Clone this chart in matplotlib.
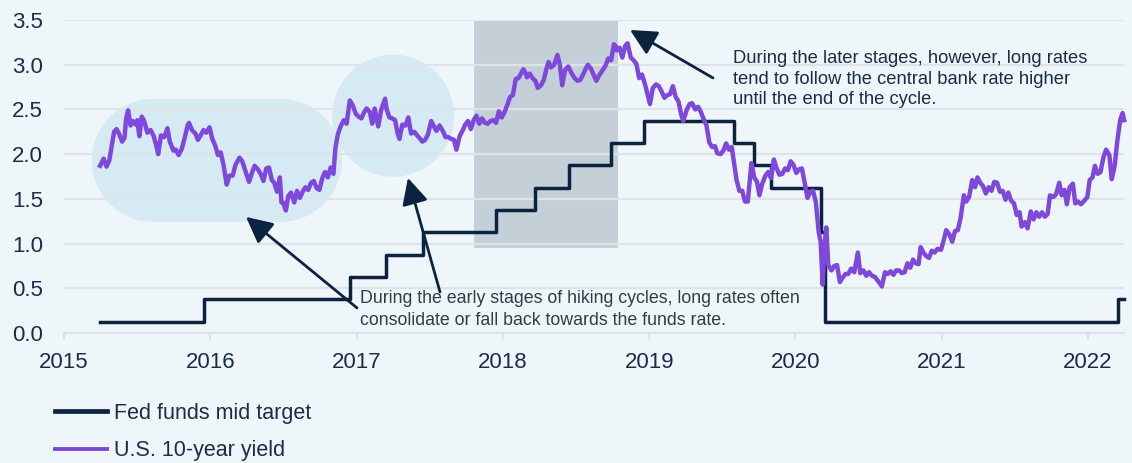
import matplotlib
matplotlib.use("Agg")
import matplotlib.pyplot as plt
from matplotlib.patches import Ellipse, Rectangle
from matplotlib.lines import Line2D
import pandas as pd

# ---------------- data ----------------
fed_dates = ["2015-04-01", "2015-12-17", "2016-12-15", "2017-03-16", "2017-06-15",
             "2017-12-14", "2018-03-22", "2018-06-14", "2018-09-27", "2018-12-20",
             "2019-08-01", "2019-09-19", "2019-10-31", "2020-03-04", "2020-03-16",
             "2022-03-17", "2022-04-01"]
fed_values = [0.125, 0.375, 0.625, 0.875, 1.125, 1.375, 1.625, 1.875, 2.125, 2.375,
              2.125, 1.875, 1.625, 1.125, 0.125, 0.375, 0.375]

yield_dates = [
    "2015-04-01", "2015-04-10", "2015-04-17", "2015-04-24", "2015-05-01", "2015-05-06", "2015-05-12",
    "2015-05-18", "2015-05-26", "2015-06-01", "2015-06-05", "2015-06-10", "2015-06-16", "2015-06-22",
    "2015-06-29", "2015-07-03", "2015-07-08", "2015-07-14", "2015-07-20", "2015-07-28", "2015-08-05",
    "2015-08-13", "2015-08-20", "2015-08-24", "2015-08-31", "2015-09-08", "2015-09-16", "2015-09-22",
    "2015-10-01", "2015-10-07", "2015-10-14", "2015-10-22", "2015-10-29", "2015-11-06", "2015-11-09",
    "2015-11-16", "2015-11-25", "2015-12-01", "2015-12-08", "2015-12-15", "2015-12-22", "2015-12-30",
    "2016-01-06", "2016-01-13", "2016-01-20", "2016-01-27", "2016-02-03", "2016-02-11", "2016-02-18",
    "2016-02-26", "2016-03-04", "2016-03-14", "2016-03-21", "2016-03-31", "2016-04-07", "2016-04-14",
    "2016-04-21", "2016-04-29", "2016-05-06", "2016-05-13", "2016-05-20", "2016-05-27", "2016-06-03",
    "2016-06-09", "2016-06-16", "2016-06-23", "2016-06-27", "2016-07-01", "2016-07-08", "2016-07-14",
    "2016-07-21", "2016-07-29", "2016-08-05", "2016-08-12", "2016-08-19", "2016-08-26", "2016-09-02",
    "2016-09-09", "2016-09-16", "2016-09-23", "2016-09-30", "2016-10-07", "2016-10-14", "2016-10-21",
    "2016-10-28", "2016-11-04", "2016-11-09", "2016-11-15", "2016-11-22", "2016-11-30", "2016-12-07",
    "2016-12-15", "2016-12-22", "2016-12-30", "2017-01-06", "2017-01-13", "2017-01-20", "2017-01-26",
    "2017-02-03", "2017-02-09", "2017-02-15", "2017-02-24", "2017-03-03", "2017-03-13", "2017-03-17",
    "2017-03-24", "2017-03-31", "2017-04-07", "2017-04-13", "2017-04-18", "2017-04-25", "2017-05-03",
    "2017-05-10", "2017-05-17", "2017-05-25", "2017-06-01", "2017-06-07", "2017-06-14", "2017-06-21",
    "2017-06-28", "2017-07-06", "2017-07-12", "2017-07-19", "2017-07-27", "2017-08-04", "2017-08-11",
    "2017-08-18", "2017-08-25", "2017-09-01", "2017-09-07", "2017-09-15", "2017-09-22", "2017-09-29",
    "2017-10-06", "2017-10-13", "2017-10-20", "2017-10-27", "2017-11-03", "2017-11-10", "2017-11-17",
    "2017-11-24", "2017-12-01", "2017-12-08", "2017-12-15", "2017-12-22", "2017-12-29", "2018-01-05",
    "2018-01-12", "2018-01-19", "2018-01-26", "2018-02-02", "2018-02-09", "2018-02-15", "2018-02-21",
    "2018-02-27", "2018-03-02", "2018-03-09", "2018-03-16", "2018-03-23", "2018-03-29", "2018-04-06",
    "2018-04-13", "2018-04-20", "2018-04-25", "2018-05-01", "2018-05-09", "2018-05-17", "2018-05-23",
    "2018-05-29", "2018-06-05", "2018-06-13", "2018-06-22", "2018-06-29", "2018-07-06", "2018-07-13",
    "2018-07-20", "2018-07-27", "2018-08-01", "2018-08-08", "2018-08-15", "2018-08-22", "2018-08-29",
    "2018-09-07", "2018-09-14", "2018-09-21", "2018-09-28", "2018-10-05", "2018-10-09", "2018-10-12",
    "2018-10-19", "2018-10-26", "2018-11-02", "2018-11-08", "2018-11-16", "2018-11-23", "2018-11-30",
    "2018-12-07", "2018-12-14", "2018-12-21", "2019-01-03", "2019-01-10", "2019-01-18", "2019-01-25",
    "2019-02-01", "2019-02-08", "2019-02-15", "2019-02-22", "2019-03-01", "2019-03-08", "2019-03-15",
    "2019-03-22", "2019-03-27", "2019-04-05", "2019-04-12", "2019-04-18", "2019-04-26", "2019-05-03",
    "2019-05-10", "2019-05-17", "2019-05-24", "2019-05-31", "2019-06-07", "2019-06-14", "2019-06-20",
    "2019-06-28", "2019-07-05", "2019-07-12", "2019-07-19", "2019-07-26", "2019-08-01", "2019-08-07",
    "2019-08-14", "2019-08-21", "2019-08-28", "2019-09-04", "2019-09-13", "2019-09-20", "2019-09-27",
    "2019-10-03", "2019-10-10", "2019-10-18", "2019-10-25", "2019-11-01", "2019-11-08", "2019-11-15",
    "2019-11-22", "2019-11-29", "2019-12-06", "2019-12-13", "2019-12-20", "2019-12-27", "2020-01-03",
    "2020-01-10", "2020-01-17", "2020-01-24", "2020-01-31", "2020-02-07", "2020-02-14", "2020-02-21",
    "2020-02-28", "2020-03-04", "2020-03-09", "2020-03-13", "2020-03-18", "2020-03-23", "2020-03-31",
    "2020-04-07", "2020-04-14", "2020-04-21", "2020-04-28", "2020-05-05", "2020-05-12", "2020-05-19",
    "2020-05-27", "2020-06-05", "2020-06-11", "2020-06-19", "2020-06-26", "2020-07-03", "2020-07-10",
    "2020-07-17", "2020-07-24", "2020-07-31", "2020-08-04", "2020-08-12", "2020-08-19", "2020-08-26",
    "2020-09-02", "2020-09-09", "2020-09-16", "2020-09-23", "2020-09-30", "2020-10-07", "2020-10-14",
    "2020-10-21", "2020-10-28", "2020-11-04", "2020-11-09", "2020-11-16", "2020-11-23", "2020-11-30",
    "2020-12-07", "2020-12-14", "2020-12-21", "2020-12-30", "2021-01-06", "2021-01-12", "2021-01-20",
    "2021-01-27", "2021-02-03", "2021-02-10", "2021-02-17", "2021-02-25", "2021-03-03", "2021-03-10",
    "2021-03-18", "2021-03-25", "2021-03-31", "2021-04-07", "2021-04-14", "2021-04-21", "2021-04-28",
    "2021-05-05", "2021-05-12", "2021-05-19", "2021-05-26", "2021-06-02", "2021-06-09", "2021-06-16",
    "2021-06-23", "2021-06-30", "2021-07-07", "2021-07-14", "2021-07-19", "2021-07-27", "2021-08-03",
    "2021-08-11", "2021-08-18", "2021-08-25", "2021-09-01", "2021-09-08", "2021-09-15", "2021-09-22",
    "2021-09-28", "2021-10-06", "2021-10-13", "2021-10-21", "2021-10-27", "2021-11-03", "2021-11-09",
    "2021-11-16", "2021-11-24", "2021-11-30", "2021-12-07", "2021-12-14", "2021-12-21", "2021-12-30",
    "2022-01-05", "2022-01-12", "2022-01-18", "2022-01-25", "2022-02-01", "2022-02-08", "2022-02-15",
    "2022-02-23", "2022-03-01", "2022-03-08", "2022-03-15", "2022-03-22", "2022-03-28", "2022-04-01"]
yield_values = [
    1.87, 1.95, 1.86, 1.93, 2.12, 2.25, 2.28, 2.23, 2.14, 2.18, 2.40, 2.49, 2.32, 2.37,
    2.33, 2.38, 2.20, 2.42, 2.37, 2.24, 2.27, 2.20, 2.08, 2.00, 2.21, 2.19, 2.29, 2.14,
    2.04, 2.05, 1.99, 2.06, 2.18, 2.33, 2.35, 2.27, 2.23, 2.16, 2.21, 2.27, 2.24, 2.30,
    2.17, 2.10, 1.99, 2.02, 1.88, 1.66, 1.76, 1.76, 1.88, 1.96, 1.92, 1.78, 1.69, 1.79,
    1.87, 1.83, 1.78, 1.70, 1.84, 1.85, 1.71, 1.68, 1.58, 1.74, 1.46, 1.46, 1.37, 1.53,
    1.57, 1.46, 1.59, 1.51, 1.58, 1.63, 1.60, 1.68, 1.70, 1.62, 1.60, 1.73, 1.80, 1.74,
    1.85, 1.78, 2.07, 2.22, 2.31, 2.38, 2.34, 2.60, 2.55, 2.45, 2.42, 2.40, 2.47, 2.51,
    2.47, 2.34, 2.51, 2.31, 2.49, 2.62, 2.50, 2.41, 2.40, 2.38, 2.24, 2.17, 2.33, 2.32,
    2.41, 2.23, 2.25, 2.21, 2.18, 2.14, 2.16, 2.22, 2.37, 2.32, 2.26, 2.32, 2.26, 2.19,
    2.19, 2.17, 2.16, 2.05, 2.20, 2.26, 2.33, 2.37, 2.28, 2.38, 2.43, 2.34, 2.40, 2.35,
    2.34, 2.37, 2.38, 2.35, 2.48, 2.41, 2.47, 2.55, 2.64, 2.66, 2.84, 2.85, 2.90, 2.95,
    2.90, 2.86, 2.90, 2.85, 2.82, 2.74, 2.77, 2.83, 2.96, 3.03, 2.97, 3.00, 3.11, 3.00,
    2.77, 2.94, 2.98, 2.90, 2.85, 2.82, 2.83, 2.89, 2.96, 3.00, 2.96, 2.89, 2.82, 2.88,
    2.94, 2.99, 3.07, 3.05, 3.23, 3.21, 3.16, 3.19, 3.08, 3.21, 3.24, 3.08, 3.05, 3.01,
    2.85, 2.89, 2.79, 2.56, 2.74, 2.78, 2.76, 2.70, 2.63, 2.66, 2.67, 2.76, 2.64, 2.59,
    2.44, 2.37, 2.50, 2.56, 2.57, 2.50, 2.53, 2.47, 2.39, 2.32, 2.13, 2.08, 2.09, 2.01,
    2.00, 2.04, 2.12, 2.05, 2.08, 1.89, 1.71, 1.59, 1.59, 1.47, 1.47, 1.90, 1.74, 1.69,
    1.54, 1.67, 1.76, 1.80, 1.73, 1.94, 1.84, 1.77, 1.78, 1.84, 1.82, 1.92, 1.88, 1.79,
    1.83, 1.84, 1.68, 1.51, 1.58, 1.59, 1.46, 1.13, 1.02, 0.54, 0.94, 1.18, 0.76, 0.70,
    0.75, 0.76, 0.57, 0.62, 0.66, 0.66, 0.72, 0.68, 0.90, 0.67, 0.70, 0.64, 0.68, 0.64,
    0.63, 0.59, 0.55, 0.52, 0.68, 0.66, 0.69, 0.65, 0.70, 0.70, 0.67, 0.68, 0.78, 0.73,
    0.82, 0.78, 0.77, 0.96, 0.90, 0.86, 0.84, 0.92, 0.90, 0.94, 0.93, 1.04, 1.15, 1.10,
    1.02, 1.14, 1.15, 1.29, 1.54, 1.47, 1.52, 1.71, 1.63, 1.74, 1.68, 1.64, 1.56, 1.63,
    1.59, 1.69, 1.68, 1.58, 1.59, 1.49, 1.57, 1.48, 1.45, 1.32, 1.35, 1.19, 1.24, 1.17,
    1.36, 1.27, 1.35, 1.30, 1.35, 1.30, 1.33, 1.54, 1.52, 1.55, 1.68, 1.54, 1.60, 1.44,
    1.63, 1.67, 1.45, 1.47, 1.44, 1.47, 1.52, 1.71, 1.74, 1.87, 1.78, 1.80, 1.96, 2.05,
    1.99, 1.72, 1.86, 2.15, 2.38, 2.46, 2.38]

year_ticks = [2015, 2016, 2017, 2018, 2019, 2020, 2021, 2022]
y_ticks = [0.0, 0.5, 1.0, 1.5, 2.0, 2.5, 3.0, 3.5]
series_labels = ["Fed funds mid target", "U.S. 10-year yield"]
note_early = ("During the early stages of hiking cycles, long rates often\n"
              "consolidate or fall back towards the funds rate.")
note_late = ("During the later stages, however, long rates\n"
             "tend to follow the central bank rate higher\n"
             "until the end of the cycle.")


def dec_year(d):
    ts = pd.Timestamp(d)
    days = 366 if ts.is_leap_year else 365
    return ts.year + (ts.dayofyear - 1) / days


fed_x = [dec_year(d) for d in fed_dates]
yld_x = [dec_year(d) for d in yield_dates]

# ---------------- style ----------------
BG = "#eff6fa"
NAVY = "#0c2340"
PURPLE = "#7f48dc"
GRID = "#dde3e8"
BUBBLE = "#d6eaf3"
SHADE = "#c5cfd7"
TICKCOL = "#1b2b4b"

plt.rcParams["font.family"] = ["Liberation Sans", "DejaVu Sans"]

W, H = 1132, 463
fig = plt.figure(figsize=(W / 100, H / 100), dpi=100)
fig.patch.set_facecolor(BG)
ax = fig.add_axes([64 / W, 130 / H, 1060 / W, 313 / H])
ax.set_facecolor(BG)

PX_X = 146.3  # pixels per year
PX_Y = 89.4   # pixels per unit
ax.set_xlim(2015, 2015 + 1060 / PX_X)
ax.set_ylim(0, 3.5)

# highlight shapes
r = 61.5
sx, sy = 2 * r / PX_X, 2 * r / PX_Y
for cx in (2015.61, 2016.48):
    ax.add_patch(Ellipse((cx, 1.93), sx, sy, facecolor=BUBBLE, edgecolor="none", zorder=0.3))
ax.add_patch(Rectangle((2015.61, 1.93 - sy / 2), 2016.48 - 2015.61, sy,
                       facecolor=BUBBLE, edgecolor="none", zorder=0.3))
ax.add_patch(Ellipse((2017.25, 2.43), 2 * 61 / PX_X, 2 * 61 / PX_Y,
                     facecolor=BUBBLE, edgecolor="none", zorder=0.3))
ax.add_patch(Rectangle((2017.80, 0.95), 2018.79 - 2017.80, 3.5 - 0.95,
                       facecolor=SHADE, edgecolor="none", zorder=0.3))

# grid / axes
ax.set_axisbelow(True)
ax.yaxis.grid(True, color=GRID, linewidth=1.6)
ax.xaxis.grid(False)
for s in ["top", "right", "left"]:
    ax.spines[s].set_visible(False)
ax.spines["bottom"].set_color(GRID)
ax.spines["bottom"].set_linewidth(1.6)

ax.set_xticks(year_ticks)
ax.set_xticklabels([str(y) for y in year_ticks])
ax.set_yticks(y_ticks)
ax.set_yticklabels([f"{v:.1f}" for v in y_ticks])
ax.tick_params(axis="x", length=5, width=1.6, color=GRID, pad=9, labelsize=16, labelcolor=TICKCOL)
ax.tick_params(axis="y", length=0, pad=15, labelsize=16, labelcolor=TICKCOL)

# series
ax.step(fed_x, fed_values, where="post", color=NAVY, linewidth=2.5, zorder=3, clip_on=False)
ax.plot(yld_x, yield_values, color=PURPLE, linewidth=3.2, zorder=4, clip_on=False,
        solid_joinstyle="round")

# annotations
arrow_kw = dict(arrowstyle="-|>,head_length=0.8,head_width=0.4", color=NAVY, lw=2.0,
                shrinkA=0, shrinkB=0, mutation_scale=20)
ax.annotate("", xy=(2016.244, 1.298), xytext=(2017.003, 0.280), arrowprops=arrow_kw, zorder=5)
ax.annotate("", xy=(2017.351, 1.734), xytext=(2017.570, 0.459), arrowprops=arrow_kw, zorder=5)
ax.annotate("", xy=(2018.869, 3.389), xytext=(2019.436, 2.852), arrowprops=arrow_kw, zorder=5)

ax.text(2017.02, 0.26, note_early, fontsize=12.8, color="#333a44", ha="left", va="center",
        linespacing=1.35, zorder=6)
ax.text(2019.573, 2.84, note_late, fontsize=13.2, color=TICKCOL, ha="left", va="center",
        linespacing=1.3, zorder=6)

# legend
handles = [Line2D([], [], color=NAVY, linewidth=3.4),
           Line2D([], [], color=PURPLE, linewidth=2.8)]
fig.legend(handles, series_labels, loc="upper left", bbox_to_anchor=(55 / W, 1 - 403 / H),
           frameon=False, fontsize=15.5, handlelength=2.4, handletextpad=0.35,
           labelspacing=0.75, borderpad=0, borderaxespad=0, labelcolor=TICKCOL)

fig.savefig("out.png", dpi=100, facecolor=BG)
